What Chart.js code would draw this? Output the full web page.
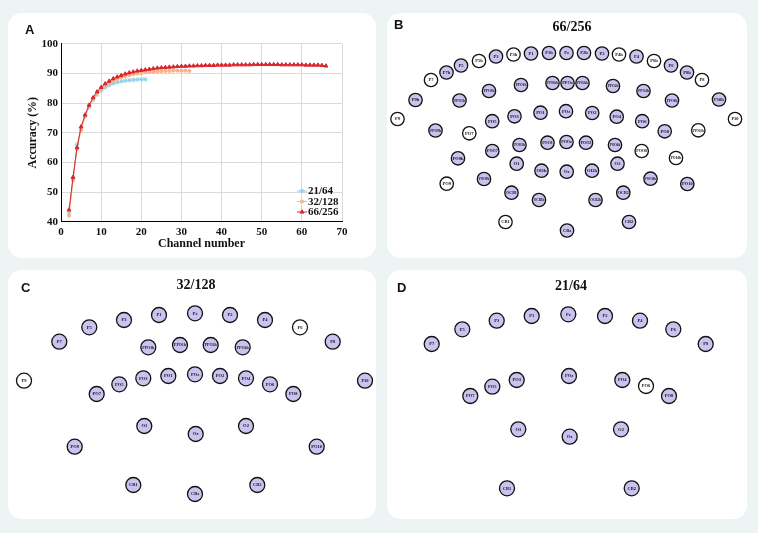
<!DOCTYPE html>
<html>
<head>
<meta charset="utf-8">
<script src="https://cdn.jsdelivr.net/npm/chart.js@4.4.0/dist/chart.umd.min.js"></script>
<style>
    html, body { margin: 0; padding: 0; }
    body { width: 758px; height: 533px; background: #eef3f4; position: relative; overflow: hidden; }
    .panel { position: absolute; background: #fff; border-radius: 14px; }
    .panel canvas { position: absolute; left: 0; top: 0; }
    .letter { position: absolute; font: bold 13px "Liberation Sans", Arial, sans-serif; line-height: 1; color: #111; }
    .title { position: absolute; font: bold 14px "Liberation Serif", "Times New Roman", serif; line-height: 1; color: #111; transform: translateX(-50%); white-space: nowrap; }
</style>
</head>
<body>
<div class="panel" style="left:8px;top:13px;width:368px;height:245px;"><canvas id="chartA" width="368" height="245"></canvas></div>
<div class="panel" style="left:387px;top:13px;width:360px;height:245px;"><canvas id="chartB" width="360" height="245"></canvas></div>
<div class="panel" style="left:8px;top:270px;width:368px;height:249px;"><canvas id="chartC" width="368" height="249"></canvas></div>
<div class="panel" style="left:387px;top:270px;width:360px;height:249px;"><canvas id="chartD" width="360" height="249"></canvas></div>

<div class="letter" style="left:25px;top:23px;">A</div>
<div class="letter" style="left:394px;top:18px;">B</div>
<div class="letter" style="left:21px;top:281px;">C</div>
<div class="letter" style="left:397px;top:281px;">D</div>
<div class="title" style="left:572px;top:20px;">66/256</div>
<div class="title" style="left:196px;top:278px;">32/128</div>
<div class="title" style="left:571px;top:279px;">21/64</div>

<script>
// Panel A: accuracy vs number of channels
const channels = [2, 3, 4, 5, 6, 7, 8, 9, 10, 11, 12, 13, 14, 15, 16, 17, 18, 19, 20, 21,
    22, 23, 24, 25, 26, 27, 28, 29, 30, 31, 32, 33, 34, 35, 36, 37, 38, 39, 40, 41,
    42, 43, 44, 45, 46, 47, 48, 49, 50, 51, 52, 53, 54, 55, 56, 57, 58, 59, 60, 61,
    62, 63, 64, 65, 66];
const acc21 = [43, 54.5, 66, 71, 75.5, 78.5, 81, 82.8, 84.2, 85.2, 86, 86.6, 87, 87.3, 87.5, 87.7, 87.8, 87.9, 88, 88];
const acc32 = [42, 54, 64.5, 71, 75.5, 79, 81.5, 83.3, 84.8, 85.9, 86.8, 87.5, 88.1, 88.6, 89, 89.4,
    89.7, 89.9, 90.1, 90.3, 90.4, 90.5, 90.6, 90.7, 90.8, 90.8, 90.9, 90.9, 90.9, 90.9, 90.8];
const acc66 = [44, 55, 65, 72, 76, 79.3, 81.8, 83.8, 85.3, 86.5, 87.4, 88.2, 88.8, 89.3, 89.8, 90.2,
    90.5, 90.8, 91.0, 91.2, 91.4, 91.6, 91.8, 91.9, 92.0, 92.1, 92.2, 92.3, 92.4, 92.4, 92.5, 92.5,
    92.6, 92.6, 92.7, 92.7, 92.7, 92.8, 92.8, 92.8, 92.8, 92.9, 92.9, 92.9, 92.9, 92.9, 93.0, 93.0,
    93.0, 93.0, 93.0, 93.0, 93.0, 92.9, 92.9, 92.9, 92.9, 92.9, 92.9, 92.8, 92.8, 92.8, 92.8, 92.7, 92.5];
const seriesLabels = ["21/64", "32/128", "66/256"];
const xTicks = [0, 10, 20, 30, 40, 50, 60, 70];
const yTicks = [40, 50, 60, 70, 80, 90, 100];

// Panel B: 66 of 256 channels (x from midline, y from panel top; 1 = selected)
const namesB = ["P7", "P7h", "P5", "P5h", "P3", "P3h", "P1", "P1h", "Pz", "P2h", "P2", "P4h", "P4", "P6h", "P6", "P8h", "P8",
    "P9h", "P10h", "P9", "P10",
    "PPO5h", "PPO3h", "PPO1h", "PPO1hh", "PPOz", "PPO2hh", "PPO2h", "PPO4h", "PPO6h",
    "PPO9h", "PO7", "PO5", "PO3", "PO1", "POz", "PO2", "PO4", "PO6", "PO8", "PPO10h",
    "PO9h", "POO7", "POO3h", "POO1", "POOz", "POO2", "POO4h", "POO8", "PO10h",
    "O1", "OI1h", "Oz", "OI2h", "O2",
    "PO9", "POO9h", "POO10h", "PO10",
    "OCB1", "OCB1h", "OCB2h", "OCB2",
    "CB1", "CBz", "CB2"];
const xB = [-136, -120.5, -106, -88, -71, -53.5, -36, -18, -0.5, 17, 35, 52, 69.5, 87, 104, 120, 135,
    -151.5, 152, -169.5, 168,
    -107.5, -78, -46, -14.5, 0.5, 15.5, 46, 76.5, 105,
    -131.5, -97.7, -74.8, -52.5, -26.5, -1, 25.2, 49.7, 75.2, 97.7, 131.3,
    -109, -74.7, -47.5, -19.5, -0.5, 19, 48, 74.7, 109,
    -50.3, -25.5, -0.3, 25, 50.5,
    -120.3, -83, 83.5, 120.3,
    -55.5, -28, 28.5, 56.3,
    -61.5, 0, 62];
const yB = [67, 59.5, 52.5, 48, 43.5, 41.5, 40.5, 40, 40, 40, 40.5, 41.5, 43.5, 48, 52.5, 59.5, 67,
    87, 86.5, 106, 106,
    87.5, 78, 72, 70, 70, 70, 73, 78, 87.5,
    117.5, 120.3, 108.2, 103.3, 99.7, 98.2, 100, 103.7, 108.2, 118.3, 117.3,
    145.3, 138, 132, 129.7, 129, 129.7, 132, 138, 145,
    150.7, 157.7, 158.7, 157.7, 150.7,
    170.7, 166, 165.7, 171,
    179.7, 187, 187, 179.7,
    209, 217.5, 209];
const selB = [0, 1, 1, 0, 1, 0, 1, 1, 1, 1, 1, 0, 1, 0, 1, 1, 0,
    1, 1, 0, 0,
    1, 1, 1, 1, 1, 1, 1, 1, 1,
    1, 0, 1, 1, 1, 1, 1, 1, 1, 1, 0,
    1, 1, 1, 1, 1, 1, 1, 0, 0,
    1, 1, 1, 1, 1,
    0, 1, 1, 1,
    1, 1, 1, 1,
    0, 1, 1];

// Panel C: 32 of 128 channels
const namesC = ["P7", "P5", "P3", "P1", "Pz", "P2", "P4", "P6", "P8",
    "PPO3h", "PPO1h", "PPO2h", "PPO4h", "P9", "P10",
    "PO7", "PO5", "PO3", "PO1", "POz", "PO2", "PO4", "PO6", "PO8",
    "O1", "Oz", "O2", "PO9", "PO10", "CB1", "CBz", "CB2"];
const xC = [-135.7, -105.7, -71, -36, 0, 35, 70, 105, 137.7,
    -46.7, -15, 15.7, 47.7, -171, 170,
    -98.3, -75.7, -51.7, -26.7, 0, 25, 51, 75, 98.3,
    -50.7, 0.7, 51, -120.3, 121.7, -61.7, 0, 62.3];
const yC = [71.7, 57.3, 50, 45, 43.3, 45, 50, 57.3, 71.7,
    77.3, 75, 75, 77.3, 110.7, 110.7,
    124, 114.3, 108.3, 106, 104.3, 106, 108.3, 114.3, 124,
    156, 164, 156, 176.7, 176.7, 215, 224, 215];
const selC = [1, 1, 1, 1, 1, 1, 1, 0, 1,
    1, 1, 1, 1, 0, 1,
    1, 1, 1, 1, 1, 1, 1, 1, 1,
    1, 1, 1, 1, 1, 1, 1, 1];

// Panel D: 21 of 64 channels
const namesD = ["P7", "P5", "P3", "P1", "Pz", "P2", "P4", "P6", "P8",
    "PO7", "PO5", "PO3", "POz", "PO4", "PO6", "PO8",
    "O1", "Oz", "O2", "CB1", "CB2"];
const xD = [-136.8, -106.2, -71.8, -36.8, -0.2, 36.5, 71.5, 104.8, 137.2,
    -98.2, -76.2, -51.8, 0.5, 53.8, 77.5, 100.5,
    -50.2, 1.2, 52.5, -61.5, 63.2];
const yD = [74, 59.3, 50.7, 46, 44.3, 46, 50.7, 59.3, 74,
    126, 116.7, 110, 106, 110, 116, 126,
    159.3, 166.7, 159.3, 218.3, 218.3];
const selD = [1, 1, 1, 1, 1, 1, 1, 1, 1,
    1, 1, 1, 1, 1, 0, 1,
    1, 1, 1, 1, 1];

const SERIF = '"Liberation Serif", "Times New Roman", serif';
const LAVENDER = "#cbc3ef";
const colors = ["#8fd0ea", "#f5b48a", "#d7262b"];
const markers = ["star", "rect", "triangle"];
const markerSize = [2.4, 1.8, 2.2];

function toPoints(xs, ys) {
    return ys.map((y, i) => ({ x: xs[i], y: y }));
}

// legend drawn inside the plot area, bottom right
const insideLegend = {
    id: "insideLegend",
    afterDatasetsDraw(chart) {
        const { ctx, chartArea } = chart;
        chart.data.datasets.forEach((ds, i) => {
            const y = chartArea.bottom - 30.7 + i * 10.5;
            const x0 = chartArea.right - 45;
            ctx.save();
            ctx.strokeStyle = ds.borderColor;
            ctx.fillStyle = ds.backgroundColor;
            ctx.lineWidth = 1;
            ctx.beginPath();
            ctx.moveTo(x0, y);
            ctx.lineTo(x0 + 10, y);
            ctx.stroke();
            Chart.helpers.drawPoint(ctx, { pointStyle: ds.pointStyle, radius: ds.pointRadius, borderWidth: 1 }, x0 + 5, y);
            ctx.fillStyle = "#111";
            ctx.font = "bold 11px " + SERIF;
            ctx.textBaseline = "middle";
            ctx.textAlign = "left";
            ctx.fillText(ds.label, x0 + 11, y + 0.5);
            ctx.restore();
        });
    }
};

const tickFont = { family: SERIF, size: 11, weight: "bold" };
const titleFont = { family: SERIF, size: 12, weight: "bold" };

new Chart(document.getElementById("chartA"), {
    type: "line",
    data: {
        datasets: [acc21, acc32, acc66].map((vals, i) => ({
            label: seriesLabels[i],
            data: toPoints(channels, vals),
            borderColor: colors[i],
            backgroundColor: colors[i],
            pointBackgroundColor: colors[i],
            pointBorderColor: colors[i],
            pointStyle: markers[i],
            pointRadius: markerSize[i],
            pointBorderWidth: 1,
            borderWidth: 1,
            tension: 0,
            order: 3 - i
        }))
    },
    options: {
        responsive: false,
        animation: false,
        events: [],
        layout: { padding: { left: 0, top: 30.7, right: 34, bottom: 0 }, autoPadding: false },
        scales: {
            x: {
                type: "linear", min: 0, max: 70,
                afterBuildTicks: s => { s.ticks = xTicks.map(v => ({ value: v })); },
                ticks: { font: tickFont, color: "#111", padding: 4, maxRotation: 0 },
                grid: { color: "#dadada", drawTicks: false },
                border: { color: "#000", width: 1 },
                title: { display: true, text: "Channel number", font: titleFont, color: "#111", padding: { top: 0, bottom: 7 } },
                afterFit: s => { s.height = 36.3; s.paddingLeft = 0; s.paddingRight = 0; }
            },
            y: {
                type: "linear", min: 40, max: 100,
                afterBuildTicks: s => { s.ticks = yTicks.map(v => ({ value: v })); },
                ticks: { font: tickFont, color: "#111", padding: 3 },
                grid: { color: "#dadada", drawTicks: false },
                border: { color: "#000", width: 1 },
                title: { display: true, text: "Accuracy (%)", font: titleFont, color: "#111", padding: { top: 18, bottom: 0 } },
                afterFit: s => { s.width = 53; s.paddingTop = 0; s.paddingBottom = 0; }
            }
        },
        plugins: { legend: { display: false }, tooltip: { enabled: false } }
    },
    plugins: [insideLegend]
});

// electrode name inside each circle
function labelPlugin(names) {
    return {
        id: "electrodeLabels",
        afterDatasetsDraw(chart) {
            const ctx = chart.ctx;
            const meta = chart.getDatasetMeta(0);
            const r = chart.data.datasets[0].pointRadius;
            ctx.save();
            ctx.fillStyle = "#111";
            ctx.textAlign = "center";
            ctx.textBaseline = "middle";
            ctx.font = "bold 4.5px " + SERIF;
            meta.data.forEach((pt, i) => {
                const w = ctx.measureText(names[i]).width;
                const maxW = r * 1.6;
                ctx.save();
                ctx.translate(pt.x, pt.y);
                if (w > maxW) ctx.scale(maxW / w, 1);
                ctx.fillText(names[i], 0, 0.3);
                ctx.restore();
            });
            ctx.restore();
        }
    };
}

function drawMontage(id, names, xs, ys, sel, xMin, xMax, yMax, radius) {
    new Chart(document.getElementById(id), {
        type: "scatter",
        data: {
            datasets: [{
                data: toPoints(xs, ys),
                pointRadius: radius,
                pointHoverRadius: radius,
                pointBackgroundColor: sel.map(s => s ? LAVENDER : "#ffffff"),
                pointBorderColor: "#111",
                pointBorderWidth: 1.3,
                clip: false
            }]
        },
        options: {
            responsive: false,
            animation: false,
            events: [],
            layout: { padding: 0, autoPadding: false },
            scales: {
                x: { type: "linear", min: xMin, max: xMax, display: false },
                y: { type: "linear", min: 0, max: yMax, reverse: true, display: false }
            },
            plugins: { legend: { display: false }, tooltip: { enabled: false } }
        },
        plugins: [labelPlugin(names)]
    });
}

drawMontage("chartB", namesB, xB, yB, selB, -180, 180, 245, 6.7);
drawMontage("chartC", namesC, xC, yC, selC, -187, 181, 249, 7.5);
drawMontage("chartD", namesD, xD, yD, selD, -181.5, 178.5, 249, 7.5);
</script>
</body>
</html>
